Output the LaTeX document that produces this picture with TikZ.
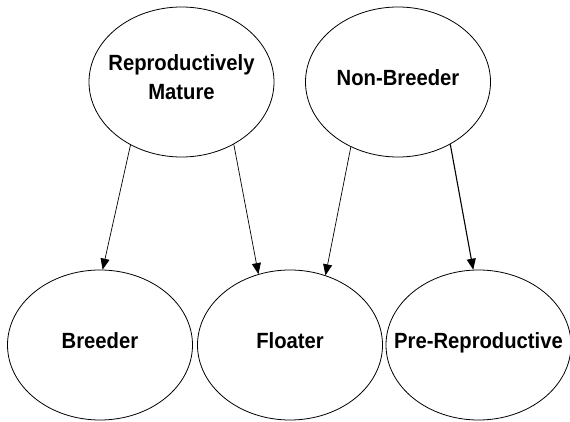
\documentclass[tikz,border=0pt]{standalone}
\usepackage{fontspec}
\setmainfont{Liberation Sans}
\newfontfamily\statefont[FakeStretch=0.92]{Liberation Sans}
\usetikzlibrary{shapes.geometric,arrows.meta}
\newcommand{\elwidth}{185pt}
\newcommand{\elheight}{150pt}
\tikzset{
    node style st/.style={draw,ellipse,line width=0.8pt,
        inner xsep=-50pt,inner ysep=0pt,text depth=9pt,
        minimum width=\elwidth,minimum height=\elheight,align=center,
        font=\statefont\bfseries\fontsize{22}{29}\selectfont},
    arrow style tr/.style={->,line width=0.7pt},
}

\begin{document}
\begin{tikzpicture}[x=1pt,y=1pt,>={Triangle[length=11pt,width=9pt]}]
\useasboundingbox (0,0) rectangle (570,421);
% upper row
\node [node style st] (repmat) at (181.5,339) {Reproductively\\Mature};
\node [node style st] (nonbr) at (398,339) {Non-Breeder};
% lower row
\node [node style st] (breeder) at (100,76) {Breeder};
\node [node style st] (floater) at (290,76) {Floater};
\node [node style st] (prerep) at (478.5,76) {Pre-Reproductive};
%
% %transitions
\draw [arrow style tr] (repmat.231) -- (breeder.88);
\draw [arrow style tr] (repmat.310) -- (floater.114);
\draw [arrow style tr] (nonbr.234) -- (floater.63);
\draw [arrow style tr,line width=1.1pt] (nonbr.310) -- (prerep.94);

\end{tikzpicture}
\end{document}
